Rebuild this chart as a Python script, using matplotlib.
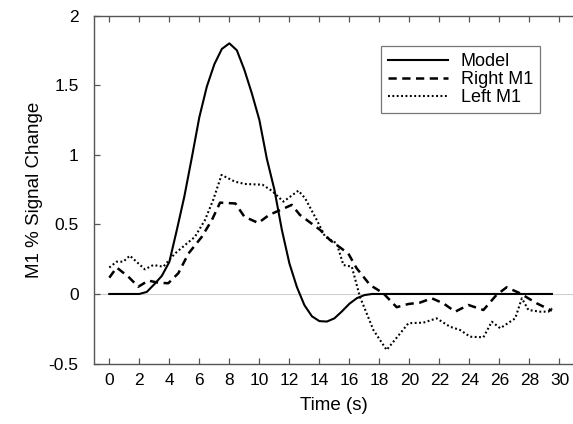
import matplotlib
matplotlib.use("Agg")
import matplotlib.pyplot as plt

plt.rcParams['font.family'] = ['Liberation Sans', 'DejaVu Sans']

# Model (canonical response)
t_model = [0, 0.5, 1, 1.5, 2.0, 2.5, 3.0, 3.5, 4.0, 4.5, 5.0, 5.5, 6.0, 6.5, 7.0, 7.5, 8.0,
           8.5, 9.0, 9.5, 10.0, 10.5, 11.0, 11.5, 12.0, 12.5, 13.0, 13.5, 14.0, 14.5, 15.0,
           15.5, 16.0, 16.5, 17.0, 17.5, 18.5, 20, 22, 24, 26, 28, 29.5]
model = [0, 0, 0, 0, 0, 0.015, 0.07, 0.13, 0.23, 0.46, 0.70, 0.98, 1.27, 1.49, 1.65, 1.76, 1.80,
         1.75, 1.61, 1.44, 1.25, 0.97, 0.75, 0.46, 0.22, 0.05, -0.08, -0.16, -0.195, -0.198, -0.175,
         -0.125, -0.07, -0.03, -0.008, 0, 0, 0, 0, 0, 0, 0, 0]

# Right M1
t_right = [0, 0.49, 1.27, 1.93, 2.6, 3.27, 3.93, 4.6, 5.27, 6.16, 6.83, 7.38, 8.4, 9.0, 9.93,
           10.65, 11.5, 12.16, 12.7, 14.05, 14.7, 15.93, 16.48, 17.37, 18.26, 19.15, 19.93,
           20.7, 21.49, 22.26, 23.05, 23.93, 24.93, 25.8, 26.48, 27.37, 28.48, 29.49]
right_m1 = [0.117, 0.19, 0.124, 0.052, 0.096, 0.081, 0.077, 0.149, 0.29, 0.41, 0.53, 0.656, 0.65,
            0.555, 0.51, 0.568, 0.608, 0.64, 0.568, 0.46, 0.388, 0.29, 0.185, 0.065, 0.005, -0.095,
            -0.072, -0.062, -0.031, -0.067, -0.127, -0.079, -0.115, -0.007, 0.048, 0.005, -0.067, -0.12]

# Left M1
t_left = [0, 0.49, 0.93, 1.37, 2.37, 2.93, 3.6, 4.37, 5.03, 5.7, 6.37, 6.92, 7.48, 8.37, 9.03,
          10.2, 10.85, 11.6, 12.6, 13.05, 13.83, 14.39, 15.15, 15.6, 16.16, 16.7, 17.6, 18.48,
          19.37, 19.93, 20.93, 21.81, 22.7, 23.38, 24.05, 24.93, 25.49, 26.05, 27.05, 27.49,
          27.93, 28.7, 29.26, 29.5]
left_m1 = [0.19, 0.232, 0.232, 0.275, 0.177, 0.208, 0.196, 0.29, 0.35, 0.41, 0.53, 0.675, 0.855,
           0.807, 0.79, 0.785, 0.74, 0.663, 0.742, 0.687, 0.53, 0.41, 0.364, 0.208, 0.196, -0.02,
           -0.259, -0.402, -0.285, -0.21, -0.206, -0.175, -0.235, -0.259, -0.307, -0.311, -0.199,
           -0.246, -0.175, -0.031, -0.115, -0.127, -0.127, -0.103]

xticks = list(range(0, 31, 2))
yticks = [-0.5, 0, 0.5, 1, 1.5, 2]
ytick_labels = ['-0.5', '0', '0.5', '1', '1.5', '2']

fig = plt.figure(figsize=(5.73, 4.24), dpi=100)
ax = fig.add_axes([94 / 573, 1 - 363.6 / 424, 1 - 94 / 573, (363.6 - 15.5) / 424])

ax.axhline(0, color='#d0d0d0', lw=0.8, zorder=1)
ax.plot(t_model, model, color='black', lw=1.5, ls='-', label='Model', zorder=3)
ax.plot(t_right, right_m1, color='black', lw=1.8, ls=(0, (3.3, 2.2)), label='Right M1', zorder=3)
ax.plot(t_left, left_m1, color='black', lw=1.5, ls=(0, (0.9, 1.2)), label='Left M1', zorder=3)

ax.set_xlim(-1.02, 30.9)
ax.set_ylim(-0.5, 2.0)
ax.set_xticks(xticks)
ax.set_yticks(yticks)
ax.set_yticklabels(ytick_labels)
ax.tick_params(direction='in', length=4, width=0.9, color='#555555', labelsize=12.5,
               top=True, right=False, pad=7)
ax.tick_params(axis='y', pad=11)
for side in ['left', 'bottom', 'top']:
    ax.spines[side].set_color('#555555')
    ax.spines[side].set_linewidth(1.0)
ax.spines['right'].set_visible(False)

ax.set_xlabel('Time (s)', fontsize=13.5, labelpad=6)
ax.set_ylabel('M1 % Signal Change', fontsize=13.5, labelpad=4)

leg = ax.legend(loc='upper right', bbox_to_anchor=(540 / 573, 1 - 46 / 424),
                bbox_transform=fig.transFigure, fontsize=13, frameon=True, fancybox=False,
                handlelength=3.3, handletextpad=0.7, borderpad=0.4, labelspacing=0.05,
                borderaxespad=0)
leg.get_frame().set_edgecolor('#555555')
leg.get_frame().set_linewidth(0.9)

fig.savefig('out.png', dpi=100)
